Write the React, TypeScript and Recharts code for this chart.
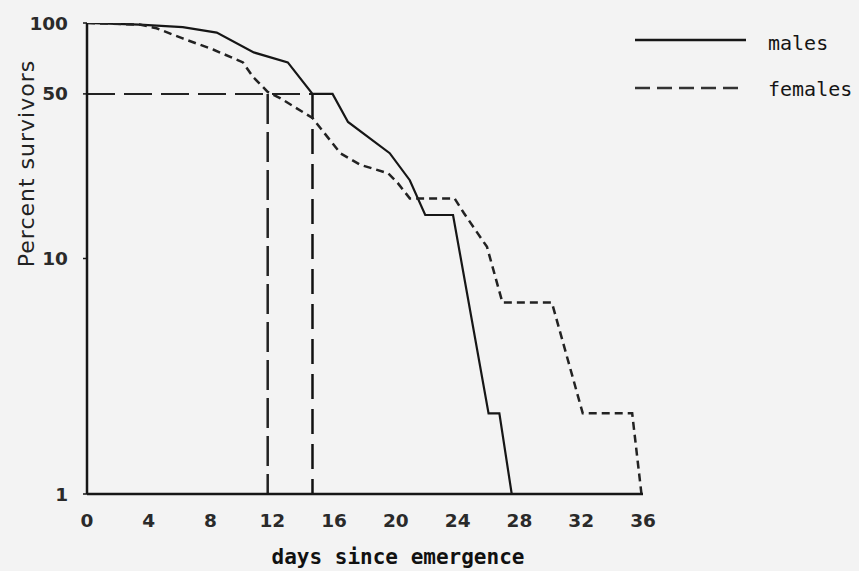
import { LineChart, Line, XAxis, YAxis, ReferenceLine } from 'recharts';

// survival curves (percent survivors, log axis)
const maleDays = [0, 3.4, 6.2, 8.4, 10.8, 13.0, 14.6, 15.9, 16.9, 19.6, 20.9, 21.9, 23.7, 26.0, 26.7, 27.5];
const maleSurvival = [100, 98.5, 96, 91, 75, 68, 50, 50, 38, 28, 21.5, 15.3, 15.3, 2.2, 2.2, 1];

const femaleDays = [0, 3.4, 4.5, 6.2, 8.2, 10.1, 10.75, 11.7, 12.5, 14.6, 16.4, 17.7, 19.5, 20.1, 20.9, 23.8, 24.4, 25.9, 26.9, 30.1, 32.1, 35.3, 35.9];
const femaleSurvival = [100, 98.5, 95, 86, 77, 68, 59, 51, 48, 39.5, 28, 25, 23, 21, 18, 18, 15.6, 11.2, 6.5, 6.5, 2.2, 2.2, 1];

const xTicks = [0, 4, 8, 12, 16, 20, 24, 28, 32, 36];
const yTicks = [1, 10, 50, 100];

// median survival markers
const femaleMedian = 11.7;
const maleMedian = 14.6;
const halfLevel = 50;

const maleData = maleDays.map((day, i) => ({ day, pct: maleSurvival[i] }));
const femaleData = femaleDays.map((day, i) => ({ day, pct: femaleSurvival[i] }));

const ink = '#161616';
const tickFont = { fontFamily: 'DejaVu Sans', fontSize: 18.5, fontWeight: 700, fill: '#2a2a2a' };

function XLabel(props: any) {
  const { viewBox } = props;
  return (
    <text
      x={viewBox.x + viewBox.width / 2 + 33}
      y={viewBox.y + 70}
      textAnchor="middle"
      style={{ fontFamily: 'DejaVu Sans Mono', fontSize: 21, fontWeight: 700, fill: '#111' }}
    >
      days since emergence
    </text>
  );
}

function YLabel(props: any) {
  const { viewBox } = props;
  const cx = 26;
  const cy = viewBox.y + viewBox.height / 2 - 95;
  return (
    <text
      x={cx}
      y={cy}
      transform={`rotate(-90 ${cx} ${cy})`}
      textAnchor="middle"
      dominantBaseline="central"
      style={{ fontFamily: 'DejaVu Sans', fontSize: 22, letterSpacing: 1, fill: '#222' }}
    >
      Percent survivors
    </text>
  );
}

function KeyBox() {
  const txt = { fontFamily: 'DejaVu Sans Mono', fontSize: 20, fill: '#151515' };
  return (
    <svg width={229} height={80} style={{ position: 'absolute', left: 630, top: 25 }}>
      <line x1={5} y1={15} x2={116} y2={15} stroke={ink} strokeWidth={2.5} />
      <text x={138} y={18} dominantBaseline="central" style={txt}>males</text>
      <line x1={5} y1={63} x2={114} y2={63} stroke="#333" strokeWidth={2.5} strokeDasharray="15 7" />
      <text x={138} y={64} dominantBaseline="central" style={txt}>females</text>
    </svg>
  );
}

export default function App() {
  return (
    <div style={{ position: 'absolute', left: 0, top: 0, width: 859, height: 571, background: '#f3f3f3' }}>
      <LineChart width={859} height={571} margin={{ top: 23, right: 216, bottom: 7, left: 27 }}>
        <XAxis
          type="number"
          dataKey="day"
          domain={[0, 36]}
          ticks={xTicks}
          allowDataOverflow
          tickLine={false}
          tickSize={6}
          tickMargin={14}
          height={70}
          tick={tickFont}
          axisLine={{ stroke: ink, strokeWidth: 2.5 }}
          label={<XLabel />}
        />
        <YAxis
          type="number"
          dataKey="pct"
          scale="log"
          domain={[1, 100]}
          ticks={yTicks}
          allowDataOverflow
          width={60}
          tickSize={4}
          tickMargin={15}
          tick={tickFont}
          tickLine={{ stroke: ink, strokeWidth: 1.5 }}
          axisLine={{ stroke: ink, strokeWidth: 2.5 }}
          label={<YLabel />}
        />
        <ReferenceLine
          segment={[{ x: 0, y: halfLevel }, { x: maleMedian, y: halfLevel }]}
          stroke="#222"
          strokeWidth={2}
          strokeDasharray="28 9"
        />
        <ReferenceLine
          segment={[{ x: femaleMedian, y: halfLevel }, { x: femaleMedian, y: 1 }]}
          stroke="#222"
          strokeWidth={2.5}
          strokeDasharray="30 8"
        />
        <ReferenceLine
          segment={[{ x: maleMedian, y: halfLevel }, { x: maleMedian, y: 1 }]}
          stroke="#111"
          strokeWidth={2.5}
          strokeDasharray="25 10"
        />
        <Line
          data={maleData}
          dataKey="pct"
          name="males"
          type="linear"
          stroke={ink}
          strokeWidth={2.2}
          dot={false}
          isAnimationActive={false}
        />
        <Line
          data={femaleData}
          dataKey="pct"
          name="females"
          type="linear"
          stroke="#222"
          strokeWidth={2.5}
          strokeDasharray="8 5"
          dot={false}
          isAnimationActive={false}
        />
      </LineChart>
      <KeyBox />
    </div>
  );
}
